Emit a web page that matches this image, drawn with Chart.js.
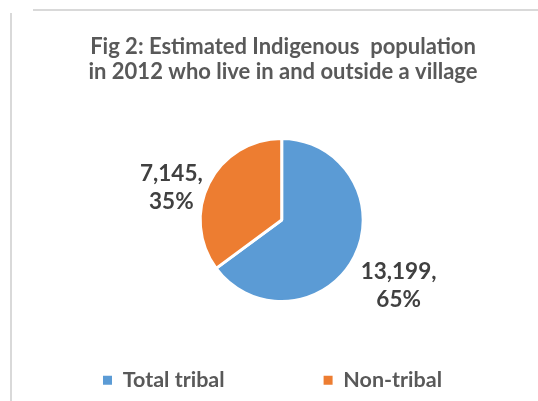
<!DOCTYPE html>
<html>
<head>
<meta charset="utf-8">
<script src="https://cdn.jsdelivr.net/npm/chart.js@4"></script>
<style>
  html, body { margin: 0; padding: 0; background: #fff; }
  #wrap { position: relative; width: 538px; height: 401px; }
  .edge-top { position: absolute; left: 33px; top: 9px; width: 505px; height: 2px; background: #d9d9d9; }
  .edge-left { position: absolute; left: 10px; top: 13px; width: 2px; height: 388px; background: #d9d9d9; }
  canvas { position: absolute; left: 0; top: 0; }
</style>
</head>
<body>
<div id="wrap">
  <div class="edge-top"></div>
  <div class="edge-left"></div>
  <canvas id="pie" width="538" height="401"></canvas>
</div>
<script>
const categories = ['Total tribal', 'Non-tribal'];
const population = [13199, 7145];
const sliceColors = ['#5B9BD5', '#ED7D31'];
const titleLines = ['Fig 2: Estimated Indigenous  population', 'in 2012 who live in and outside a village'];

// value + percent labels outside each slice (like Excel "outside end")
const pieLabels = {
  id: 'pieLabels',
  afterDatasetsDraw(chart, args, opts) {
    const ctx = chart.ctx;
    const arcs = chart.getDatasetMeta(0).data;
    const values = chart.data.datasets[0].data;
    const total = values.reduce((a, b) => a + b, 0);
    ctx.save();
    ctx.font = 'bold ' + opts.size + 'px ' + opts.family;
    ctx.fillStyle = opts.color;
    ctx.textAlign = 'center';
    ctx.textBaseline = 'middle';
    arcs.forEach((arc, i) => {
      const p = arc.getProps(['x', 'y', 'startAngle', 'endAngle', 'outerRadius'], true);
      const mid = (p.startAngle + p.endAngle) / 2;
      const lines = [values[i].toLocaleString('en-US') + ',', Math.round(values[i] / total * 100) + '%'];
      const w = Math.max(...lines.map(t => ctx.measureText(t).width));
      const h = lines.length * opts.lineHeight;
      const ax = p.x + Math.cos(mid) * (p.outerRadius + opts.gap);
      const ay = p.y + Math.sin(mid) * (p.outerRadius + opts.gap);
      const cx = ax + Math.sign(Math.cos(mid)) * w / 2;
      const cy = ay + h * (0.3 + 0.35 * Math.sin(mid));
      lines.forEach((t, j) => ctx.fillText(t, cx, cy - h / 2 + opts.lineHeight * (j + 0.5)));
    });
    ctx.restore();
  }
};

// the original is not centred on the canvas: move pie, title and legend right a bit
const offCentre = {
  id: 'offCentre',
  afterLayout(chart, args, opts) {
    const a = chart.chartArea;
    chart.chartArea = Object.assign({}, a, { left: a.left + opts.pie, width: a.width - opts.pie });
    chart.titleBlock.left += opts.title;
    chart.titleBlock.right += opts.title;
    chart.legend.left += opts.legend;
    chart.legend.right += opts.legend;
  }
};

const canvas = document.getElementById('pie');
const myChart = new Chart(canvas, {
  type: 'pie',
  data: {
    labels: categories,
    datasets: [{
      data: population,
      backgroundColor: sliceColors,
      borderColor: '#ffffff',
      borderWidth: 3,
      radius: 81.5,
      clip: false
    }]
  },
  options: {
    responsive: false,
    animation: false,
    events: [],
    layout: { padding: 0 },
    plugins: {
      title: {
        display: true,
        text: titleLines,
        color: '#595959',
        font: { family: 'Lato', size: 22, weight: 'bold', lineHeight: 1.136 },
        padding: { top: 34.5, bottom: 85 }
      },
      legend: {
        position: 'bottom',
        labels: {
          color: '#595959',
          font: { family: 'Lato', size: 21.5, weight: 'bold' },
          boxWidth: 9,
          boxHeight: 9,
          padding: 99,
          generateLabels(chart) {
            return Chart.overrides.pie.plugins.legend.labels.generateLabels(chart)
              .map(l => Object.assign(l, { lineWidth: 0 }));
          }
        }
      },
      tooltip: { enabled: false },
      pieLabels: { family: 'Lato', size: 22.5, lineHeight: 28, color: '#404040', gap: 7 },
      offCentre: { pie: 25.4, title: 14, legend: 3.5 }
    }
  },
  plugins: [pieLabels, offCentre]
});
</script>
</body>
</html>
